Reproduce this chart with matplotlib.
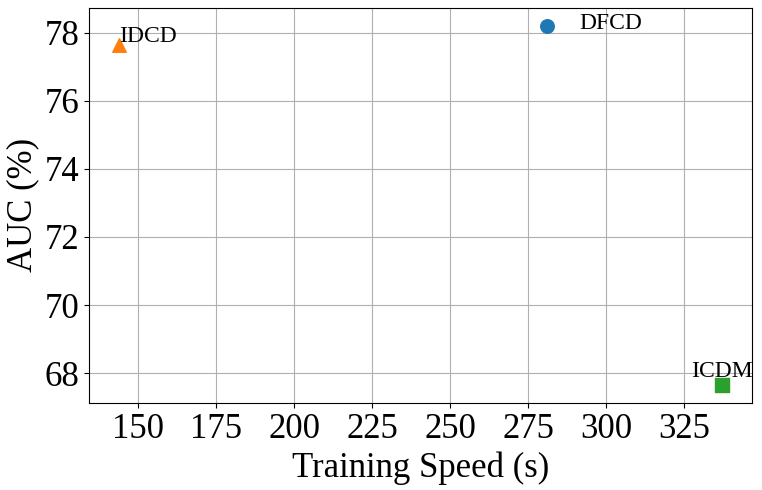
import matplotlib
matplotlib.use("Agg")
import matplotlib.pyplot as plt

plt.rcParams['font.family'] = ['Liberation Serif', 'DejaVu Serif']

models = ["DFCD", "IDCD", "ICDM"]
speed = [281, 144, 337]
auc = [78.2, 77.63, 67.66]
markers = ["o", "^", "s"]
colors = ["#1f77b4", "#ff7f0e", "#2ca02c"]

# label offsets in points, and horizontal alignment
offsets = [(23, -2), (0, 2), (0, 5.5)]
aligns = ["left", "left", "center"]

fig = plt.figure(figsize=(7.62, 4.9), dpi=100)
ax = fig.add_axes([0.117, 0.178, 0.870, 0.806])

for i in range(len(models)):
    ax.scatter(speed[i], auc[i], marker=markers[i], color=colors[i], s=95, zorder=3)
    ax.annotate(models[i], (speed[i], auc[i]), xytext=offsets[i],
                textcoords="offset points", ha=aligns[i], va="baseline",
                fontsize=17)

ax.set_xticks([150, 175, 200, 225, 250, 275, 300, 325])
ax.set_yticks([68, 70, 72, 74, 76, 78])
ax.tick_params(labelsize=25)
ax.set_xlabel("Training Speed (s)", fontsize=25)
ax.set_ylabel("AUC (%)", fontsize=25)
ax.grid(True, color="#b0b0b0", linewidth=0.8)
ax.set_axisbelow(True)

fig.savefig("out.png", dpi=100)
